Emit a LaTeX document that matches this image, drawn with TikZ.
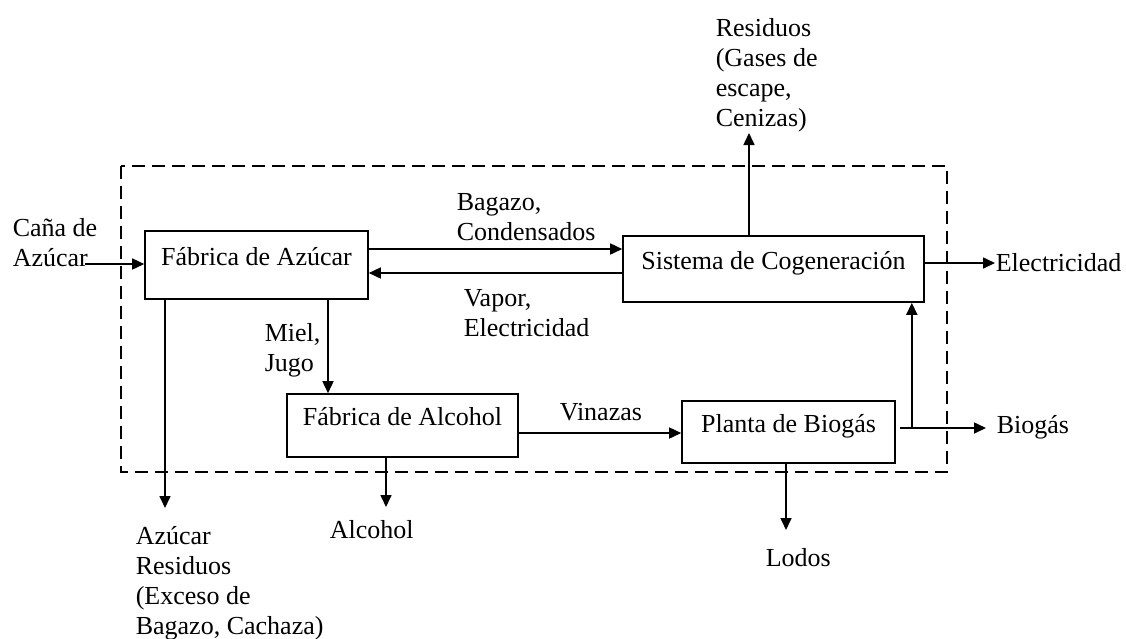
\documentclass[tikz,border=0pt]{standalone}
\usepackage{fontspec}
\setmainfont{Liberation Serif}
\usetikzlibrary{arrows.meta}
\begin{document}
\begin{tikzpicture}[x=1pt,y=-1pt,
  font=\fontsize{26}{30}\selectfont,
  line width=1.6pt,
  arr/.style={-{Triangle[length=12pt,width=11pt]}},
  box/.style={draw,rectangle,inner xsep=0pt,inner ysep=0pt,text height=33pt,text depth=33pt},
  lbl/.style={anchor=base west,inner sep=0pt,align=left},
  frame/.style={dash pattern=on 13pt off 7pt}]
\useasboundingbox (0,0) rectangle (1126,638);
% frame
\draw[frame] (121,166) rectangle (947,472);
% boxes
\node[box,minimum width=223pt,text height=34pt,text depth=34pt] (azucar) at (256.5,265) {Fábrica de Azúcar};
\node[box,minimum width=301pt] (sistema) at (773.5,269) {Sistema de Cogeneración};
\node[box,minimum width=231pt,text height=31.5pt,text depth=31.5pt] (alcohol) at (402.5,425.5) {Fábrica de Alcohol};
\node[box,minimum width=213pt,text height=31pt,text depth=31pt] (planta) at (788.5,432) {Planta de Biogás};
% labels (base = baseline of last line)
\node[lbl] (cana) at (12,266) {Caña de\\Azúcar};
\node[lbl] (bag) at (456,240) {Bagazo,\\Condensados};
\node[lbl] (vap) at (463,336) {Vapor,\\Electricidad};
\node[lbl] (res) at (715,126) {Residuos\\(Gases de\\escape,\\Cenizas)};
\node[lbl] (elec) at (995,271) {Electricidad};
\node[lbl] (miel) at (264,371) {Miel,\\Jugo};
\node[lbl] (azres) at (135,634) {Azúcar\\Residuos\\(Exceso de\\Bagazo, Cachaza)};
\node[lbl] (alc) at (329,538) {Alcohol};
\node[lbl] (vin) at (559,420) {Vinazas};
\node[lbl] (lod) at (765,566) {Lodos};
\node[lbl] (bio) at (996,433) {Biogás};
% free ends
\coordinate (cin) at (85,264);
\coordinate (rtop) at (749,133);
\coordinate (aout) at (165,508);
\coordinate (alout) at (386,507);
\coordinate (lout) at (786,530);
\coordinate (j) at ([xshift=16pt,yshift=4pt]planta.east);
% connectors
\draw[arr] (cin) -- (cin -| azucar.west);
\draw[arr] ([yshift=16pt]azucar.east) -- ([yshift=16pt]azucar.east -| sistema.west);
\draw[arr] ([yshift=-8pt]azucar.east -| sistema.west) -- ([yshift=-8pt]azucar.east);
\draw[arr] (sistema.north -| rtop) -- (rtop);
\draw[arr] ([yshift=6pt]sistema.east) -- ([yshift=6pt]sistema.east -| elec.west);
\draw[arr] ([xshift=71.5pt]azucar.south) -- ([xshift=71.5pt]azucar.south |- alcohol.north);
\draw[arr] (azucar.south -| aout) -- (aout);
\draw[arr] (alcohol.south -| alout) -- (alout);
\draw[arr] ([yshift=-7.5pt]alcohol.east) -- ([yshift=-7.5pt]alcohol.east -| planta.west);
\draw[arr] (planta.south -| lout) -- (lout);
\draw[arr] ([xshift=4pt,yshift=4pt]planta.east) -- ([xshift=-10pt]bio.west |- j);
\draw[arr] (j) -- (j |- sistema.south);
\end{tikzpicture}
\end{document}
